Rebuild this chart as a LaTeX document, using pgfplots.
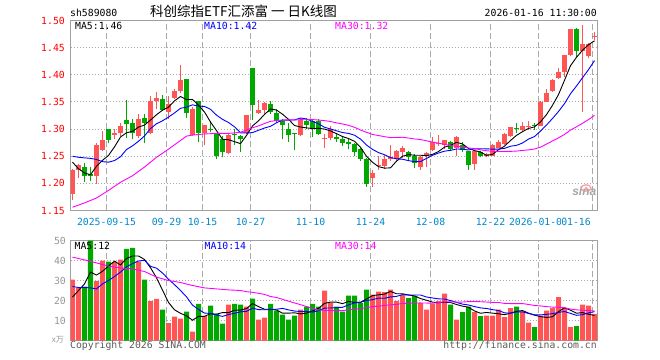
\documentclass[border=0pt]{standalone}
\usepackage{fontspec}
\usepackage{pgfplots}
\usepackage{pgfplotstable}
\pgfplotsset{compat=1.18}
\setmonofont{DejaVu Sans Mono}
\newfontfamily\cjk{Noto Sans CJK SC}
\newfontfamily\logofont{Liberation Sans}
\newcommand\mono{\ttfamily\fontsize{9.8bp}{10bp}\selectfont}
\definecolor{upred}{RGB}{255,85,85}
\definecolor{dngreen}{RGB}{0,168,0}
\definecolor{bordc}{RGB}{160,160,160}
\definecolor{gridc}{RGB}{170,170,170}
\definecolor{datec}{RGB}{0,136,204}
\definecolor{volc}{RGB}{150,150,150}
\definecolor{ma10c}{RGB}{0,0,255}
\definecolor{ma30c}{RGB}{255,0,255}
\definecolor{copyc}{RGB}{90,90,90}

\pgfplotstableread{
i o h l c v
0 1.180 1.226 1.170 1.225 30.5
1 1.225 1.236 1.210 1.234 26.3
4 1.214 1.274 1.198 1.270 29.7
5 1.262 1.297 1.260 1.280 40
7 1.289 1.300 1.282 1.293 39.2
8 1.293 1.312 1.287 1.305 40.5
11 1.288 1.328 1.283 1.318 39.5
13 1.292 1.360 1.290 1.351 19.7
14 1.352 1.369 1.337 1.358 20.8
16 1.332 1.361 1.318 1.346 8.7
17 1.358 1.373 1.355 1.370 12
18 1.370 1.418 1.367 1.391 11
20 1.289 1.340 1.288 1.337 4.5
22 1.293 1.308 1.270 1.307 12.2
26 1.256 1.291 1.254 1.289 18
29 1.293 1.326 1.291 1.325 17
31 1.329 1.353 1.328 1.336 10.5
32 1.336 1.349 1.328 1.348 11.5
38 1.289 1.320 1.288 1.317 15.5
42 1.282 1.291 1.266 1.284 25
43 1.284 1.305 1.279 1.300 18.7
50 1.210 1.224 1.194 1.219 23
51 1.232 1.251 1.225 1.233 24.5
52 1.232 1.252 1.227 1.244 24.2
53 1.245 1.271 1.242 1.248 25.5
54 1.245 1.262 1.240 1.260 19.7
55 1.258 1.268 1.246 1.265 23
58 1.230 1.251 1.225 1.248 18.7
59 1.250 1.257 1.230 1.256 15.5
60 1.262 1.285 1.260 1.277 18.3
61 1.272 1.289 1.268 1.274 19.7
62 1.271 1.280 1.263 1.279 23.5
64 1.266 1.287 1.251 1.285 10.5
67 1.236 1.260 1.225 1.259 14.2
69 1.250 1.256 1.248 1.254 12.5
70 1.251 1.273 1.250 1.271 12.5
71 1.266 1.279 1.265 1.276 15.5
72 1.273 1.293 1.271 1.291 11.7
73 1.287 1.304 1.285 1.303 16.2
75 1.299 1.313 1.297 1.305 14.5
76 1.303 1.315 1.299 1.306 9
78 1.306 1.351 1.305 1.350 12.5
79 1.350 1.374 1.349 1.367 15
80 1.370 1.393 1.369 1.391 16.2
81 1.394 1.413 1.392 1.405 21.7
82 1.405 1.436 1.395 1.436 16.3
83 1.436 1.485 1.434 1.485 6.7
85 1.444 1.491 1.331 1.456 18
86 1.435 1.459 1.430 1.456 17.5
87 1.470 1.479 1.464 1.472 13.3
}\up

\pgfplotstableread{
i o h l c v
2 1.230 1.238 1.203 1.214 27
3 1.217 1.230 1.205 1.214 50
6 1.300 1.301 1.274 1.279 39.5
9 1.317 1.353 1.283 1.309 45.8
10 1.311 1.318 1.282 1.293 46.3
12 1.320 1.328 1.274 1.312 30.5
15 1.355 1.363 1.334 1.335 15.5
19 1.392 1.392 1.320 1.329 14.5
21 1.351 1.352 1.277 1.293 18.3
23 1.300 1.315 1.294 1.299 17.5
24 1.291 1.293 1.244 1.250 13.3
25 1.282 1.288 1.248 1.257 8.5
27 1.290 1.301 1.271 1.289 18.3
28 1.288 1.289 1.257 1.281 18
30 1.412 1.413 1.317 1.345 21
33 1.346 1.351 1.328 1.331 18.3
34 1.329 1.337 1.312 1.315 15
35 1.315 1.318 1.281 1.307 13
36 1.300 1.312 1.277 1.289 10.5
37 1.292 1.293 1.262 1.291 12.5
39 1.315 1.320 1.300 1.307 17
40 1.314 1.318 1.286 1.301 18.3
41 1.315 1.318 1.289 1.291 17
44 1.286 1.293 1.277 1.282 17
45 1.282 1.288 1.268 1.274 14.5
46 1.277 1.282 1.263 1.273 22.5
47 1.273 1.274 1.250 1.258 22.5
48 1.263 1.266 1.242 1.245 18.7
49 1.245 1.246 1.194 1.199 25.5
56 1.257 1.259 1.242 1.248 21.2
57 1.251 1.254 1.228 1.238 22.2
63 1.277 1.278 1.262 1.263 18
65 1.271 1.277 1.257 1.262 14.2
66 1.259 1.260 1.225 1.233 17
68 1.257 1.260 1.248 1.250 12.2
74 1.302 1.311 1.293 1.301 17
77 1.306 1.311 1.299 1.305 6.7
84 1.485 1.486 1.433 1.444 7.2
}\down

\pgfplotstableread{
i m5 m10 m30 v5 v10 v30
0 1.239 1.250 1.156 21.7 27.0 41.7
1 1.227 1.248 nan 25.0 26.5 nan
2 1.219 1.247 1.164 28.3 26.5 40.3
3 1.216 1.246 nan 34.2 26.3 nan
4 1.2314 1.244 1.173 32.7 25.8 38.8
5 1.2424 1.240 nan 34.6 28.3 nan
6 1.2514 1.239 1.187 37.24 30.0 37.2
7 1.2672 1.242 nan 39.68 32.0 nan
8 1.2854 1.249 1.202 37.78 34.2 36.3
9 1.2932 1.2623 nan 41.0 36.85 nan
10 1.2958 1.2691 1.214 42.26 38.43 35.8
11 1.3036 1.2775 nan 42.26 39.75 nan
12 1.3074 1.2873 1.230 40.52 40.1 34.5
13 1.3166 1.301 nan 36.36 37.07 nan
14 1.3264 1.3098 1.248 31.36 36.18 31.7
15 1.3348 1.3153 nan 25.2 33.73 nan
16 1.3404 1.322 1.263 19.04 30.65 30.0
17 1.352 1.3297 nan 15.34 27.93 nan
18 1.36 1.3383 1.279 13.6 24.98 29.0
19 1.3542 1.3403 1.287 12.34 21.85 nan
20 1.3546 1.3447 1.289 10.14 17.67 27.5
21 1.344 1.3422 nan 12.06 15.55 nan
22 1.3314 1.3417 1.291 12.1 13.72 26.3
23 1.313 1.3365 nan 13.4 13.5 nan
24 1.2972 1.3257 1.292 13.16 12.75 25.8
25 1.2812 1.3179 nan 13.96 12.05 nan
26 1.2804 1.3122 1.292 13.9 12.98 25.3
27 1.2768 1.3041 nan 15.12 13.61 nan
28 1.2732 1.2931 1.294 15.22 14.31 25.0
29 1.2882 1.2927 1.2984 15.96 14.56 24.42
30 1.3058 1.2935 1.3024 18.46 16.21 24.1
31 1.3152 1.2978 1.3058 16.96 15.43 23.58
32 1.327 1.3019 1.3103 15.6 15.36 23.06
33 1.337 1.3051 1.3142 15.66 15.44 22.0
34 1.335 1.3116 1.3157 15.26 15.61 21.51
35 1.3274 1.3166 1.3166 13.66 16.06 20.61
36 1.318 1.3166 1.3169 13.66 15.31 19.65
37 1.3066 1.3168 1.3169 13.86 14.73 18.76
38 1.3038 1.3204 1.3173 13.3 14.48 17.92
39 1.3022 1.3186 1.3172 13.7 14.48 16.96
40 1.301 1.3142 1.3175 14.76 14.21 16.03
41 1.3014 1.3097 1.3166 16.06 14.86 15.28
42 1.30 1.3033 1.3156 18.56 16.21 15.1
43 1.2966 1.3002 1.3139 19.2 16.25 15.06
44 1.2916 1.2969 1.3114 19.2 16.45 14.94
45 1.2862 1.2936 1.3094 18.44 16.6 14.9
46 1.2826 1.292 1.3069 19.54 17.8 15.36
47 1.2774 1.2887 1.3032 19.04 18.8 15.71
48 1.2664 1.2815 1.2983 19.04 19.12 15.97
49 1.2498 1.2707 1.294 20.74 19.97 16.34
50 1.2388 1.2625 1.2901 22.44 20.44 16.95
51 1.2308 1.2567 1.2881 22.84 21.19 17.16
52 1.228 1.2527 1.286 23.18 21.11 17.56
53 1.2286 1.2475 1.2843 24.54 21.79 17.83
54 1.2408 1.2453 1.2846 23.38 22.06 18.04
55 1.25 1.2444 1.2849 23.38 22.91 18.52
56 1.253 1.2419 1.2835 22.72 22.78 18.63
57 1.2518 1.2399 1.2818 22.32 22.75 18.76
58 1.2518 1.2402 1.2807 20.96 22.75 18.78
59 1.251 1.2459 1.2784 20.12 21.75 18.73
60 1.2534 1.2517 1.2761 19.18 21.28 18.64
61 1.2586 1.2558 1.2741 18.88 20.8 18.95
62 1.2668 1.2593 1.2718 19.14 20.73 19.35
63 1.2698 1.2608 1.2695 19.0 19.98 19.34
64 1.2756 1.2633 1.2685 18.0 19.06 19.19
65 1.2726 1.263 1.267 17.18 18.18 19.23
66 1.2644 1.2615 1.2651 16.64 17.76 19.45
67 1.2604 1.2636 1.2641 14.78 16.96 19.5
68 1.2578 1.2638 1.2618 13.62 16.31 19.39
69 1.2516 1.2636 1.2601 14.02 16.01 19.24
70 1.2534 1.263 1.2591 13.68 15.43 19.05
71 1.262 1.2632 1.2586 13.38 15.01 19.0
72 1.2684 1.2644 1.2588 12.88 13.83 18.56
73 1.279 1.2684 1.2589 13.68 13.65 18.47
74 1.2884 1.27 1.2595 14.58 14.3 18.47
75 1.2952 1.2743 1.2606 14.98 14.33 18.47
76 1.3012 1.2816 1.2617 13.68 13.53 18.02
77 1.304 1.2862 1.2632 12.68 12.78 17.5
78 1.3134 1.2962 1.2667 11.94 12.81 17.29
79 1.3266 1.3075 1.2723 11.54 13.06 16.94
80 1.3438 1.3195 1.2781 11.88 13.43 16.71
81 1.3636 1.3324 1.2838 14.42 14.05 16.62
82 1.3898 1.3469 1.2902 16.34 14.51 16.36
83 1.4168 1.3651 1.2981 15.18 13.56 15.73
84 1.4322 1.3794 1.3042 13.62 12.58 15.31
85 1.4452 1.3945 1.3106 13.98 12.93 15.15
86 1.4554 1.4095 1.3175 13.14 13.78 15.02
87 1.4626 1.4262 1.3253 12.54 14.44 14.73
}\ma

\pgfplotsset{
  kstyle/.style={
    scale only axis, width=526.7bp, xmin=-0.3333, xmax=87.45,
    axis line style={draw=bordc, line width=1bp},
    tick style={draw=none},
    xtick={5.667,15.667,21.667,29.667,39.667,49.667,59.667,69.667,77.667},
    extra x ticks={86.667},
    xmajorgrids, ymajorgrids,
    x grid style={draw=gridc, line width=1bp, dash pattern=on 6bp off 3bp},
    y grid style={draw=gridc, line width=1bp, dash pattern=on 1bp off 2bp},
    tick label style={font=\mono},
  },
  wick/.style={only marks, mark=none, mark size=0pt,
    mark options={draw=none, fill=none},
    error bars/.cd, y dir=plus, y explicit,
    error mark=none, error bar style={line width=1bp, draw=#1}},
  body/.style={only marks, mark=none, mark size=0pt,
    mark options={draw=none, fill=none},
    error bars/.cd, y dir=plus, y explicit,
    error mark=none, error bar style={line width=5bp, draw=#1}},
}

\begin{document}
\begin{tikzpicture}
\path[use as bounding box] (0,0) rectangle (660bp,360bp);

% ---------- price panel ----------
\begin{axis}[kstyle, at={(70.5bp,149.5bp)}, anchor=south west, height=190bp,
  ymin=1.15, ymax=1.50,
  ytick={1.15,1.20,1.25,1.30,1.35,1.40,1.45,1.50},
  yticklabels={1.15,1.20,1.25,1.30,1.35,1.40,1.45,1.50},
  yticklabel style={text=red, anchor=east, inner sep=0pt, xshift=-5.5bp},
  xticklabels={2025-09-15,09-29,10-15,10-27,11-10,11-24,12-08,12-22,2026-01-05},
  xticklabel style={text=datec, anchor=center, inner sep=0pt, yshift=-11.2bp},
  extra x tick labels={01-16},
  extra x tick style={grid=major, xticklabel style={xshift=-16.5bp, fill=white}},
]
\addplot[wick=upred] table[x=i, y=l, y error expr=\thisrow{h}-\thisrow{l}] {\up};
\addplot[body=upred] table[x=i, y=o, y error expr={max(\thisrow{c}-\thisrow{o},0.0016)}] {\up};
\addplot[wick=dngreen] table[x=i, y=l, y error expr=\thisrow{h}-\thisrow{l}] {\down};
\addplot[body=dngreen] table[x=i, y=c, y error expr={max(\thisrow{o}-\thisrow{c},0.0016)}] {\down};
\addplot[black, line width=0.9bp, mark=none] table[x=i, y=m5] {\ma};
\addplot[ma10c, line width=0.9bp, mark=none] table[x=i, y=m10] {\ma};
\addplot[ma30c, line width=0.9bp, mark=none] table[x=i, y=m30] {\ma};
\end{axis}

% ---------- volume panel ----------
\begin{axis}[kstyle, at={(70.5bp,19.5bp)}, anchor=south west, height=100bp,
  ymin=0, ymax=50,
  ytick={10,20,30,40,50},
  yticklabels={10,20,30,40,50},
  yticklabel style={text=volc, anchor=east, inner sep=0pt, xshift=-4.5bp},
  xticklabels={}, extra x tick labels={},
  extra x tick style={grid=major},
]
\addplot[ybar, bar width=5bp, bar shift=0pt, fill=upred, draw=none] table[x=i, y=v] {\up};
\addplot[ybar, bar width=5bp, bar shift=0pt, fill=dngreen, draw=none] table[x=i, y=v] {\down};
\addplot[black, line width=0.9bp, mark=none] table[x=i, y=v5] {\ma};
\addplot[ma10c, line width=0.9bp, mark=none] table[x=i, y=v10] {\ma};
\addplot[ma30c, line width=0.9bp, mark=none] table[x=i, y=v30] {\ma};
\end{axis}

% ---------- texts ----------
\node[anchor=base west, inner sep=0pt, font=\mono] at (70bp,343.3bp) {sh589080};
\node[anchor=base west, inner sep=0pt] at (150bp,343.3bp)
  {\cjk\fontsize{13.5bp}{14bp}\selectfont 科创综指ETF汇添富 一 日K线图};
\node[anchor=base east, inner sep=0pt, font=\mono] at (597bp,343.3bp) {2026-01-16 11:30:00};

\node[anchor=west, inner sep=0pt, font=\mono, text=black] at (75bp,333.7bp) {MA5:1.46};
\node[anchor=west, inner sep=0pt, font=\mono, text=ma10c] at (204bp,333.7bp) {MA10:1.42};
\node[anchor=west, inner sep=0pt, font=\mono, text=ma30c] at (335bp,333.7bp) {MA30:1.32};

\node[anchor=west, inner sep=0pt, font=\mono, text=black] at (74.5bp,113.7bp) {MA5:12};
\node[anchor=west, inner sep=0pt, font=\mono, text=ma10c] at (204.5bp,113.7bp) {MA10:14};
\node[anchor=west, inner sep=0pt, font=\mono, text=ma30c] at (335bp,113.7bp) {MA30:14};

\node[anchor=east, inner sep=0pt, text=volc] at (64bp,20.5bp)
  {\cjk\fontsize{8bp}{9bp}\selectfont x万};
\node[anchor=base west, inner sep=0pt, font=\mono, text=copyc] at (70bp,11.7bp) {Copyright 2026 SINA.COM};
\node[anchor=base east, inner sep=0pt, font=\mono, text=copyc] at (597bp,11.7bp) {http://finance.sina.com.cn};

% sina watermark
\draw[red!35, line width=1.4bp] (586bp,172bp) ellipse (5bp and 3.2bp);
\fill[red!35] (586bp,172bp) circle (1.5bp);
\node[anchor=base east, inner sep=0pt, text=gray!70] at (596.5bp,164bp)
  {\logofont\bfseries\itshape\fontsize{12bp}{12bp}\selectfont sina};
\end{tikzpicture}
\end{document}
